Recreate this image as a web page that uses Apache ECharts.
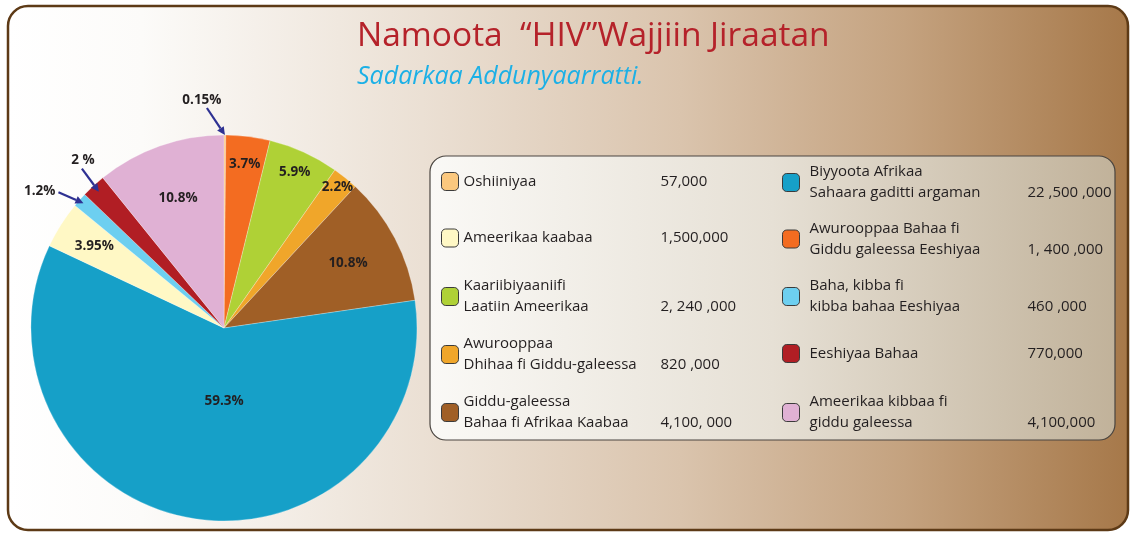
<!DOCTYPE html>
<html>
<head>
<meta charset="utf-8">
<script src="https://cdn.jsdelivr.net/npm/echarts@6/dist/echarts.min.js"></script>
<style>
  html, body { margin: 0; padding: 0; background: #ffffff; }
  #chart { width: 1131px; height: 533px; }
</style>
</head>
<body>
<div id="chart"></div>
<script>
// Regions in pie order, clockwise from 12 o'clock
const regionLines = [
  ['Oshiiniyaa'],
  ['Awurooppaa Bahaa fi', 'Giddu galeessa Eeshiyaa'],
  ['Kaariibiyaaniifi', 'Laatiin Ameerikaa'],
  ['Awurooppaa', 'Dhihaa fi Giddu-galeessa'],
  ['Giddu-galeessa', 'Bahaa fi Afrikaa Kaabaa'],
  ['Biyyoota Afrikaa', 'Sahaara gaditti argaman'],
  ['Ameerikaa kaabaa'],
  ['Baha, kibba fi', 'kibba bahaa Eeshiyaa'],
  ['Eeshiyaa Bahaa'],
  ['Ameerikaa kibbaa fi', 'giddu galeessa']
];
// People living with HIV per region
const peopleLiving = [57000, 1400000, 2240000, 820000, 4100000, 22500000, 1500000, 460000, 770000, 4100000];
// Numbers as printed in the key
const valueLabels = ['57,000', '1, 400 ,000', '2, 240 ,000', '820 ,000', '4,100, 000',
                     '22 ,500 ,000', '1,500,000', '460 ,000', '770,000', '4,100,000'];
// Share of the world total, as printed on the slices
const shareLabels = ['0.15%', '3.7%', '5.9%', '2.2%', '10.8%', '59.3%', '3.95%', '1.2%', '2 %', '10.8%'];
// Key columns (indices into the region list), top to bottom
const leftColumn = [0, 6, 2, 3, 4];
const rightColumn = [5, 1, 7, 8, 9];

const sliceColors = ['#fbc87e', '#f36c21', '#afd136', '#f0a62a', '#a05f26',
                     '#16a0c8', '#fff8c5', '#6dcff0', '#b11e24', '#e0b1d4'];

const FONT = '"Open Sans", "DejaVu Sans", sans-serif';
const TEXT = '#231f20';
const CENTER = [224, 328];
const RADIUS = 193;

// Where each inside share label sits, as a fraction of the radius
const insideLabelRadius = { 1: 0.84, 2: 0.87, 3: 0.92, 4: 0.71, 5: 0.37, 6: 0.78, 9: 0.70 };
// Extra nudge [dx, dy] for labels that sit off the slice's middle line
const insideLabelShift = { 5: [11, 3] };
// Small slices get a label with an arrow pointing at the slice
const arrowLabels = {
  0: { inset: 0, tail: [-18, -27], text: [-5, -8], align: 'center' },
  8: { inset: 8, tail: [-17, -23], text: [1, -9], align: 'center' },
  7: { inset: 5, tail: [-25, -11], text: [-3, -1], align: 'right' }
};
// Key layout: vertical centre of each row, icon x of each column, text width before the numbers
const keyRowCenters = [181, 237.5, 295, 353, 411];
const keyColumns = [
  { items: leftColumn, left: 441, textWidth: 197, indent: 0 },
  { items: rightColumn, left: 782, textWidth: 218, indent: 5 }
];

const regionNames = regionLines.map(l => l.join(' '));
const chart = echarts.init(document.getElementById('chart'), null, { renderer: 'canvas' });

const shareFont = { fontFamily: FONT, fontWeight: 'bold', fontSize: 13.5, color: TEXT };

const series = [{
  type: 'pie',
  center: CENTER,
  radius: RADIUS,
  startAngle: 90,
  clockwise: true,
  silent: true,
  animation: false,
  emphasis: { disabled: true },
  label: { show: false },
  labelLine: { show: false },
  itemStyle: { borderColor: 'rgba(255,255,255,0.45)', borderWidth: 0.6 },
  data: peopleLiving.map((v, i) => ({ name: regionNames[i], value: v, itemStyle: { color: sliceColors[i] } }))
}];

// Transparent rings that only carry one share label each, at the ring's middle
Object.keys(insideLabelRadius).forEach(k => {
  const i = +k;
  const f = insideLabelRadius[k];
  const inner = f >= 0.5 ? (2 * f - 1) * RADIUS : 0;
  const outer = f >= 0.5 ? RADIUS : 2 * f * RADIUS;
  const shift = insideLabelShift[i] || [0, 0];
  // asymmetric padding moves the centred text by the shift
  const pad = [Math.max(0, 2 * shift[1]), Math.max(0, -2 * shift[0]), Math.max(0, -2 * shift[1]), Math.max(0, 2 * shift[0])];
  series.push({
    type: 'pie',
    center: CENTER,
    radius: [inner, outer],
    startAngle: 90,
    clockwise: true,
    silent: true,
    legendHoverLink: false,
    animation: false,
    z: 3,
    emphasis: { disabled: true },
    itemStyle: { color: 'rgba(0,0,0,0)', borderWidth: 0 },
    labelLine: { show: false },
    data: peopleLiving.map((v, j) => ({
      name: regionNames[j],
      value: v,
      label: j === i
        ? Object.assign({ show: true, position: 'inside', formatter: shareLabels[j], padding: pad }, shareFont)
        : { show: false }
    }))
  });
});

// One legend per key entry so every row sits on its own fixed centre line
function keyEntry(i, rowCenter, col) {
  const base = { fontFamily: FONT, fontSize: 15, color: TEXT };
  const tok = (extra) => Object.assign({}, base, extra);
  const twoLines = regionLines[i].length > 1;
  return {
    orient: 'vertical',
    left: col.left,
    top: rowCenter - (twoLines ? 16.5 : 9),
    padding: 0,
    itemWidth: 17,
    itemHeight: 18,
    icon: 'roundRect',
    selectedMode: false,
    data: [regionNames[i]],
    itemStyle: { borderColor: '#3b3b3b', borderWidth: 1 },
    textStyle: {
      fontFamily: FONT, fontSize: 15, color: TEXT,
      rich: {
        sp: tok({ width: col.indent, lineHeight: 21 }),
        n: tok({ width: col.textWidth, lineHeight: 21 }),
        v: tok({ lineHeight: 21 })
      }
    },
    formatter: name => {
      const k = regionNames.indexOf(name);
      const lines = regionLines[k];
      const sp = col.indent ? '{sp| }' : '';
      if (lines.length === 1) {
        return sp + '{n|' + lines[0] + '}{v|' + valueLabels[k] + '}';
      }
      return sp + '{n|' + lines[0] + '}\n' + sp + '{n|' + lines[1] + '}{v|' + valueLabels[k] + '}';
    }
  };
}

const legends = [];
keyColumns.forEach(col => col.items.forEach((i, row) => legends.push(keyEntry(i, keyRowCenters[row], col))));

const option = {
  backgroundColor: '#ffffff',
  animation: false,
  title: [{
    text: 'Namoota  \u201cHIV\u201dWajjiin Jiraatan',
    left: 357,
    top: 17,
    padding: 0,
    textStyle: { fontFamily: FONT, fontSize: 33.5, fontWeight: 'normal', color: '#b5222a', lineHeight: 38 }
  }, {
    text: 'Sadarkaa Addunyaarratti.',
    left: 357,
    top: 62,
    padding: 0,
    textStyle: { fontFamily: FONT, fontSize: 25, fontStyle: 'italic', fontWeight: 'normal', color: '#1cb0e6', lineHeight: 30 }
  }],
  legend: legends,
  series: series
};

chart.setOption(option);

// Mid-angle geometry of a slice
function sliceMid(i) {
  let lay = null;
  try { lay = chart.getModel().getSeriesByIndex(0).getData().getItemLayout(i); } catch (e) { lay = null; }
  if (lay && isFinite(lay.startAngle) && isFinite(lay.endAngle)) {
    return { cx: lay.cx, cy: lay.cy, r: lay.r, a: (lay.startAngle + lay.endAngle) / 2 };
  }
  const total = peopleLiving.reduce((s, v) => s + v, 0);
  const before = peopleLiving.slice(0, i).reduce((s, v) => s + v, 0);
  return { cx: CENTER[0], cy: CENTER[1], r: RADIUS,
           a: -Math.PI / 2 + 2 * Math.PI * (before + peopleLiving[i] / 2) / total };
}

const graphics = [{
  type: 'rect', id: 'frame', silent: true, z: 0,
  shape: { x: 8, y: 6, width: 1120, height: 524, r: 20 },
  style: {
    fill: { type: 'linear', x: 0, y: 0, x2: 1, y2: 0, colorStops: [
      { offset: 0, color: '#ffffff' }, { offset: 0.12, color: '#fcfbf9' },
      { offset: 0.37, color: '#ebe0d4' }, { offset: 0.6, color: '#dac4ad' },
      { offset: 0.8, color: '#c4a27f' }, { offset: 1, color: '#a67849' }] },
    stroke: '#5d3a16', lineWidth: 2.5
  }
}, {
  type: 'rect', id: 'keyBox', silent: true, z: 1,
  shape: { x: 430, y: 156, width: 685, height: 284, r: 16 },
  style: {
    fill: { type: 'linear', x: 0, y: 0, x2: 1, y2: 0, colorStops: [
      { offset: 0, color: '#faf9f6' }, { offset: 0.5, color: '#e6e0d5' }, { offset: 1, color: '#c1b29a' }] },
    stroke: '#4a4540', lineWidth: 1.2
  }
}];

const ARROW = '#2e3192';
Object.keys(arrowLabels).forEach(k => {
  const i = +k;
  const cfg = arrowLabels[k];
  const g = sliceMid(i);
  const tip = [g.cx + (g.r - cfg.inset) * Math.cos(g.a), g.cy + (g.r - cfg.inset) * Math.sin(g.a)];
  const tail = [tip[0] + cfg.tail[0], tip[1] + cfg.tail[1]];
  const len = Math.hypot(cfg.tail[0], cfg.tail[1]);
  const ux = -cfg.tail[0] / len, uy = -cfg.tail[1] / len;
  const headLen = 8, headHalf = 4;
  const base = [tip[0] - ux * headLen, tip[1] - uy * headLen];
  graphics.push({
    type: 'line', id: 'arrowLine' + i, silent: true, z: 10,
    shape: { x1: tail[0], y1: tail[1], x2: base[0], y2: base[1] },
    style: { stroke: ARROW, lineWidth: 2.2 }
  }, {
    type: 'polygon', id: 'arrowHead' + i, silent: true, z: 10,
    shape: { points: [tip, [base[0] - uy * headHalf, base[1] + ux * headHalf], [base[0] + uy * headHalf, base[1] - ux * headHalf]] },
    style: { fill: ARROW }
  }, {
    type: 'text', id: 'arrowText' + i, silent: true, z: 10,
    x: tail[0] + cfg.text[0], y: tail[1] + cfg.text[1],
    style: { text: shareLabels[i], fill: TEXT, fontFamily: FONT, fontWeight: 'bold', fontSize: 13.5,
             align: cfg.align, verticalAlign: 'middle' }
  });
});

chart.setOption({ graphic: graphics });
</script>
</body>
</html>
